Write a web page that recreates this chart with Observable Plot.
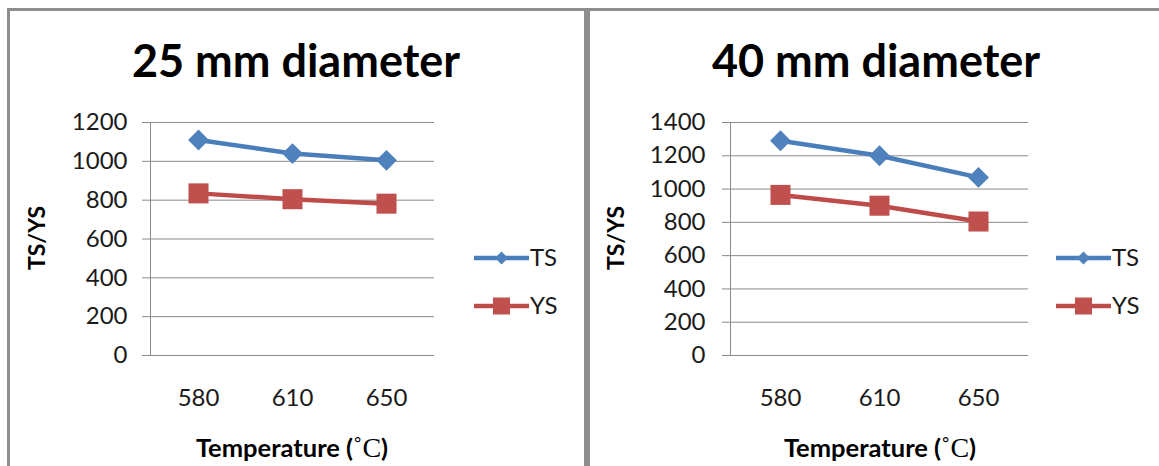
<!DOCTYPE html>
<html>
<head>
<meta charset="utf-8">
<script src="https://cdn.jsdelivr.net/npm/d3@7"></script>
<script src="https://cdn.jsdelivr.net/npm/@observablehq/plot@0.6"></script>
<style>
  html, body { margin: 0; padding: 0; background: #fff; }
  #wrap { position: relative; width: 1159px; height: 466px; overflow: hidden; background: #fff; }
  .panel { position: absolute; border: 3px solid #8e8e8e; box-sizing: border-box; }
  .plotbox { position: absolute; top: 0; }
  #overlay { position: absolute; left: 0; top: 0; }
</style>
</head>
<body>
<div id="wrap"></div>
<script>
// ---- data ----
const temperatures = ["580", "610", "650"];
const seriesNames = ["TS", "YS"];
const ts25 = [1110, 1040, 1005];
const ys25 = [835, 805, 782];
const ts40 = [1290, 1200, 1070];
const ys40 = [965, 900, 805];
const yTicks25 = [0, 200, 400, 600, 800, 1000, 1200];
const yTicks40 = [0, 200, 400, 600, 800, 1000, 1200, 1400];
const titles = ["25 mm diameter", "40 mm diameter"];
const yLabel = "TS/YS";
const xLabelMain = "Temperature (";
const xLabelUnit = "˚C";

const blue = "#4A7EBB", blueM = "#4F81BD";
const red = "#BE4B48", redM = "#C0504D";
const grid = "#8a8a8a";
const font = "Lato, 'Open Sans', sans-serif";

const wrap = document.getElementById("wrap");

function makeRows(ts, ys) {
  const rows = [];
  temperatures.forEach((t, i) => {
    rows.push({temp: t, value: ts[i], series: "TS"});
    rows.push({temp: t, value: ys[i], series: "YS"});
  });
  return rows;
}

function leftAxisLine(index, scales, values, dims) {
  const l = document.createElementNS("http://www.w3.org/2000/svg", "line");
  l.setAttribute("x1", dims.marginLeft + 0.5);
  l.setAttribute("x2", dims.marginLeft + 0.5);
  l.setAttribute("y1", dims.marginTop);
  l.setAttribute("y2", dims.height - dims.marginBottom);
  l.setAttribute("stroke", grid);
  return l;
}

function drawPanel(cfg) {
  const rows = makeRows(cfg.ts, cfg.ys);
  const chart = Plot.plot({
    width: cfg.width,
    height: 466,
    marginLeft: cfg.mLeft,
    marginRight: cfg.mRight,
    marginTop: 122,
    marginBottom: 111,
    style: {background: "transparent", fontFamily: font, overflow: "visible"},
    x: {type: "point", domain: temperatures, padding: 0.5},
    y: {domain: [0, cfg.yMax]},
    marks: [
      Plot.gridY(cfg.yTicks, {stroke: grid, strokeOpacity: 1}),
      leftAxisLine,
      Plot.axisY(cfg.yTicks, {tickSize: 8, tickPadding: cfg.tickPad, stroke: grid, fill: "#1a1a1a", fontSize: 24, label: null, tickFormat: d => String(d)}),
      Plot.axisX({tickSize: 0, tickPadding: 33, fill: "#1a1a1a", fontSize: 24, label: null}),
      Plot.line(rows, {x: "temp", y: "value", z: "series", stroke: d => d.series === "TS" ? blue : red, strokeWidth: 4.5, strokeLinejoin: "round"}),
      Plot.dot(rows.filter(d => d.series === "TS"), {x: "temp", y: "value", symbol: "diamond2", r: 9.4, fill: blueM, stroke: "none"}),
      Plot.dot(rows.filter(d => d.series === "YS"), {x: "temp", y: "value", symbol: "square", r: 11.3, fill: redM, stroke: "none"})
    ]
  });
  const box = document.createElement("div");
  box.className = "plotbox";
  box.style.left = cfg.left + "px";
  box.appendChild(chart);
  wrap.appendChild(box);
}

drawPanel({ts: ts25, ys: ys25, yMax: 1200, yTicks: yTicks25, left: 0, width: 585, mLeft: 150, mRight: 151, tickPad: 15});
drawPanel({ts: ts40, ys: ys40, yMax: 1400, yTicks: yTicks40, left: 587, width: 572, mLeft: 143, mRight: 131, tickPad: 17});

// panel borders
[[7, 8, 580, 480], [587, 8, 600, 480]].forEach(([l, t, w, h]) => {
  const p = document.createElement("div");
  p.className = "panel";
  Object.assign(p.style, {left: l + "px", top: t + "px", width: w + "px", height: h + "px"});
  wrap.appendChild(p);
});

// text overlay + legends
const svg = d3.select(wrap).append("svg").attr("id", "overlay").attr("width", 1159).attr("height", 466)
  .style("font-family", font);

const layout = [
  {titleX: 296, yLabX: 37, xLabX: 292, legX: 474},
  {titleX: 876, yLabX: 616, xLabX: 880, legX: 1056}
];

layout.forEach((L, i) => {
  svg.append("text").attr("x", L.titleX).attr("y", 77).attr("text-anchor", "middle")
    .attr("font-size", 45).attr("font-weight", 700).attr("fill", "#000").text(titles[i]);
  svg.append("text").attr("transform", `translate(${L.yLabX + 8},238) rotate(-90)`).attr("text-anchor", "middle")
    .attr("font-size", 23).attr("font-weight", 700).attr("fill", "#000").text(yLabel);
  const xl = svg.append("text").attr("x", L.xLabX).attr("y", 457).attr("text-anchor", "middle")
    .attr("font-size", 25.5).attr("font-weight", 700).attr("fill", "#000");
  xl.append("tspan").text(xLabelMain);
  xl.append("tspan").attr("font-family", "'Liberation Serif', serif").attr("font-weight", 400).attr("font-size", 28).text(xLabelUnit);
  xl.append("tspan").text(")");

  // legend
  seriesNames.forEach((s, k) => {
    const y = 258 + k * 48;
    const g = svg.append("g");
    g.append("line").attr("x1", L.legX).attr("x2", L.legX + 55).attr("y1", y).attr("y2", y)
      .attr("stroke", s === "TS" ? blue : red).attr("stroke-width", 4.5);
    const cx = L.legX + 27.5;
    if (s === "TS") {
      g.append("path").attr("d", `M${cx},${y - 6.5}L${cx + 6.5},${y}L${cx},${y + 6.5}L${cx - 6.5},${y}Z`).attr("fill", blueM);
    } else {
      g.append("rect").attr("x", cx - 8.5).attr("y", y - 8.5).attr("width", 17).attr("height", 17).attr("fill", redM);
    }
    g.append("text").attr("x", L.legX + 56).attr("y", y).attr("dy", "0.35em")
      .attr("font-size", 24).attr("fill", "#1a1a1a").text(s);
  });
});
</script>
</body>
</html>
